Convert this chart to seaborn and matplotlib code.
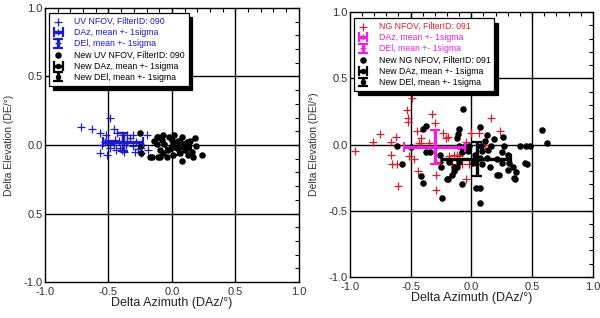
import numpy as np
import pandas as pd
import matplotlib
matplotlib.use("Agg")
import matplotlib.pyplot as plt
from matplotlib.ticker import MultipleLocator, FixedLocator, FixedFormatter
import seaborn as sns

# left panel: UV NFOV, FilterID 090
uv_az = [-0.72, -0.63, -0.57, -0.49, -0.46, -0.43, -0.52, -0.39, -0.35, -0.31, -0.20,
         -0.53, -0.49, -0.46, -0.31, -0.24, -0.57, -0.51, -0.39, -0.29, -0.24, -0.19,
         -0.49, -0.41, -0.35, -0.28, -0.45, -0.50, -0.42, -0.36, -0.33, -0.27, -0.55, -0.44, -0.38]
uv_el = [0.13, 0.12, 0.09, 0.20, 0.12, 0.09, 0.07, 0.07, 0.07, 0.07, 0.07,
         0.02, 0.01, 0.00, -0.01, -0.02, -0.06, -0.07, -0.04, -0.05, -0.06, -0.04,
         -0.02, -0.02, 0.02, 0.02, 0.04, 0.04, 0.03, 0.00, 0.05, -0.03, 0.00, -0.04, -0.05]
new_uv_az = [-0.25, -0.24, -0.24, -0.17, -0.09, -0.12, -0.11, -0.07, -0.02, 0.02,
             0.08, 0.18, -0.12, -0.06, 0.01, 0.09, -0.09, -0.03, 0.04, 0.12,
             0.16, -0.16, -0.11, -0.04, 0.01, 0.08, 0.13, 0.17, 0.24, 0.06,
             -0.07, 0.00, -0.08, 0.12, 0.19, 0.05, -0.14, 0.10, 0.14, -0.01]
new_uv_el = [0.09, 0.00, -0.06, -0.09, -0.09, 0.06, 0.06, 0.07, 0.06, 0.07,
             0.06, 0.05, 0.01, 0.01, 0.01, 0.01, -0.04, -0.04, -0.02, -0.02,
             -0.05, -0.09, -0.09, -0.09, -0.07, -0.12, -0.07, -0.09, -0.07, -0.06,
             -0.06, 0.04, 0.04, 0.02, -0.01, 0.03, 0.03, -0.04, 0.03, -0.02]
# mean, sigma (az), mean, sigma (el)
uv_stats = [-0.385, 0.155, 0.02, 0.065]
new_uv_stats = [0.05, 0.10, -0.02, 0.05]

# right panel: NG NFOV, FilterID 091
ng_az = [-0.49, -0.53, -0.52, -0.52, -0.32, -0.30, -0.75, -0.81, -0.62, -0.66, -0.45,
         -0.41, -0.23, -0.21, -0.96, -0.66, -0.51, -0.47, -0.41, -0.65, -0.61, -0.14,
         -0.18, -0.10, 0.00, 0.06, 0.11, -0.26, -0.44, -0.60, -0.29, -0.29, -0.04,
         -0.02, -0.08, -0.16, -0.12, 0.16, 0.24, -0.04, 0.08, -0.19, -0.35, -0.43]
ng_el = [0.35, 0.26, 0.20, 0.17, 0.23, 0.16, 0.08, 0.02, 0.06, 0.02, 0.10,
         0.05, 0.09, 0.05, -0.05, -0.08, -0.09, -0.11, 0.01, -0.15, -0.15, -0.08,
         -0.09, -0.09, 0.09, 0.09, 0.00, -0.13, -0.20, -0.31, -0.23, -0.34, -0.26,
         -0.15, -0.15, -0.15, -0.08, 0.20, 0.10, 0.02, -0.01, 0.06, 0.01, 0.01]
new_ng_az = [-0.07, -0.37, -0.40, -0.10, 0.07, 0.13, 0.19, 0.26, 0.58, 0.62, 0.40, 0.45,
             0.48, -0.61, -0.50, -0.37, -0.34, -0.26, -0.11, -0.12, -0.10, -0.02, 0.08,
             0.11, 0.16, 0.27, 0.25, 0.30, 0.31, 0.34, 0.37, 0.36, 0.44, 0.46, 0.21,
             0.15, 0.09, -0.10, -0.14, -0.19, -0.08, -0.24, 0.07, 0.07, 0.14, 0.01,
             0.07, 0.13, 0.21, 0.25, -0.57, -0.41, -0.40, -0.25, -0.20, -0.16, -0.14,
             -0.12, -0.18, -0.08, -0.07, -0.03, 0.04, 0.09, 0.23, 0.35, 0.30, 0.03]
new_ng_el = [0.27, 0.14, 0.12, 0.12, 0.13, 0.07, 0.04, 0.06, 0.11, 0.01, -0.01, -0.01,
             -0.01, -0.01, -0.02, -0.06, -0.06, -0.08, 0.08, 0.05, -0.01, -0.01, -0.01,
             0.03, -0.01, -0.01, -0.06, -0.08, -0.14, -0.17, -0.21, -0.26, -0.14, -0.15, -0.23,
             -0.17, -0.15, -0.13, -0.17, -0.26, -0.30, -0.40, -0.33, -0.44, -0.04, -0.14,
             -0.10, -0.10, -0.11, -0.14, -0.15, -0.24, -0.29, -0.17, -0.26, -0.23, -0.20,
             -0.17, -0.13, -0.06, -0.02, -0.05, -0.33, -0.05, -0.23, -0.25, -0.19, -0.08]
ng_stats = [-0.30, 0.25, -0.02, 0.13]
new_ng_stats = [0.045, 0.285, -0.11, 0.13]

tick_vals = [-1.0, -0.5, 0.0, 0.5, 1.0]
left_ylabels = ["-1.0", "0.5", "0.0", "0.5", "1.0"]
right_ylabels = ["-1.0", "-0.5", "0.0", "0.5", "1.0"]
xlabels = ["-1.0", "-0.5", "0.0", "0.5", "1.0"]

sns.set_style("white")
plt.rcParams['font.family'] = ['Liberation Sans', 'DejaVu Sans']

BLUE = "#1c1cc8"
RED = "#d81e2c"
MAG = "#ee22dd"


def style_axes(ax, ylabels, ylab):
    ax.set_xlim(-1, 1)
    ax.set_ylim(-1, 1)
    for v in [-0.5, 0.0, 0.5]:
        ax.axhline(v, color="black", lw=1.0, zorder=1)
        ax.axvline(v, color="black", lw=1.0, zorder=1)
    ax.xaxis.set_major_locator(FixedLocator(tick_vals))
    ax.xaxis.set_major_formatter(FixedFormatter(xlabels))
    ax.yaxis.set_major_locator(FixedLocator(tick_vals))
    ax.yaxis.set_major_formatter(FixedFormatter(ylabels))
    ax.xaxis.set_minor_locator(MultipleLocator(0.1))
    ax.yaxis.set_minor_locator(MultipleLocator(0.1))
    ax.tick_params(which="both", direction="in", top=True, right=True,
                   colors="black", labelcolor="#333333", labelsize=8, width=0.8)
    ax.tick_params(which="major", length=5)
    ax.tick_params(axis="y", which="major", pad=1.5)
    ax.tick_params(axis="x", which="major", pad=3.5)
    ax.tick_params(which="minor", length=3)
    for s in ax.spines.values():
        s.set_color("black")
        s.set_linewidth(1.0)
    ax.set_xlabel("Delta Azimuth (DAz/°)", fontsize=9, color="#222222", labelpad=0)
    ax.set_ylabel(ylab, fontsize=7.5, color="#333333", labelpad=7)


def draw_panel(ax, az, el, new_az, new_el, stats, new_stats, col, ecol, labels, lcolors, bbox):
    sns.scatterplot(x=az, y=el, ax=ax, marker="+", color=col, s=30,
                    linewidth=0.9, zorder=3)
    h1 = ax.collections[-1]
    sns.scatterplot(x=new_az, y=new_el, ax=ax, marker="o", color="black", s=22,
                    edgecolor="black", linewidth=0, zorder=4)
    h4 = ax.collections[-1]
    h2 = ax.errorbar(stats[0], stats[2], xerr=stats[1], fmt="+", color=ecol, ms=4,
                     elinewidth=2.4, capsize=3.5, capthick=1.6, zorder=5)
    h3 = ax.errorbar(stats[0], stats[2], yerr=stats[3], fmt="+", color=ecol, ms=4,
                     elinewidth=2.4, capsize=3.5, capthick=1.6, zorder=5)
    h5 = ax.errorbar(new_stats[0], new_stats[2], xerr=new_stats[1], fmt="o", color="black",
                     ms=3, elinewidth=2.4, capsize=3.5, capthick=1.6, zorder=6)
    h6 = ax.errorbar(new_stats[0], new_stats[2], yerr=new_stats[3], fmt="o", color="black",
                     ms=3, elinewidth=2.4, capsize=3.5, capthick=1.6, zorder=6)
    leg = ax.legend([h1, h2, h3, h4, h5, h6], labels, loc="upper left",
                    bbox_to_anchor=bbox, fontsize=6.3, labelcolor=lcolors,
                    frameon=True, fancybox=False, framealpha=1, edgecolor="black",
                    shadow={"ox": 2.8, "oy": -3.2, "color": "black", "alpha": 1},
                    handlelength=1.2, handletextpad=1.2, borderpad=0.45,
                    labelspacing=0.25, borderaxespad=0)
    leg.get_frame().set_linewidth(0.9)
    leg.set_zorder(10)


fig = plt.figure(figsize=(6, 3.18), dpi=100)
ax1 = fig.add_axes([0.075, 0.113, 0.423, 0.862])
ax2 = fig.add_axes([0.583, 0.129, 0.405, 0.833])

style_axes(ax1, left_ylabels, "Delta Elevation (DE/°)")
style_axes(ax2, right_ylabels, "Delta Elevation (DEl/°)")

draw_panel(ax1, uv_az, uv_el, new_uv_az, new_uv_el, uv_stats, new_uv_stats, BLUE, BLUE,
           ["UV NFOV, FilterID: 090", "DAz, mean +- 1sigma", "DEl, mean +- 1sigma",
            "New UV NFOV, FilterID: 090", "New DAz, mean +- 1sigma", "New DEl, mean +- 1sigma"],
           [BLUE, BLUE, BLUE, "black", "black", "black"], (0.016, 0.982))
draw_panel(ax2, ng_az, ng_el, new_ng_az, new_ng_el, ng_stats, new_ng_stats, RED, MAG,
           ["NG NFOV, FilterID: 091", "DAz, mean +- 1sigma", "DEl, mean +- 1sigma",
            "New NG NFOV, FilterID: 091", "New DAz, mean +- 1sigma", "New DEl, mean +- 1sigma"],
           [RED, MAG, MAG, "black", "black", "black"], (0.016, 0.977))

fig.savefig("out.png", dpi=100)
